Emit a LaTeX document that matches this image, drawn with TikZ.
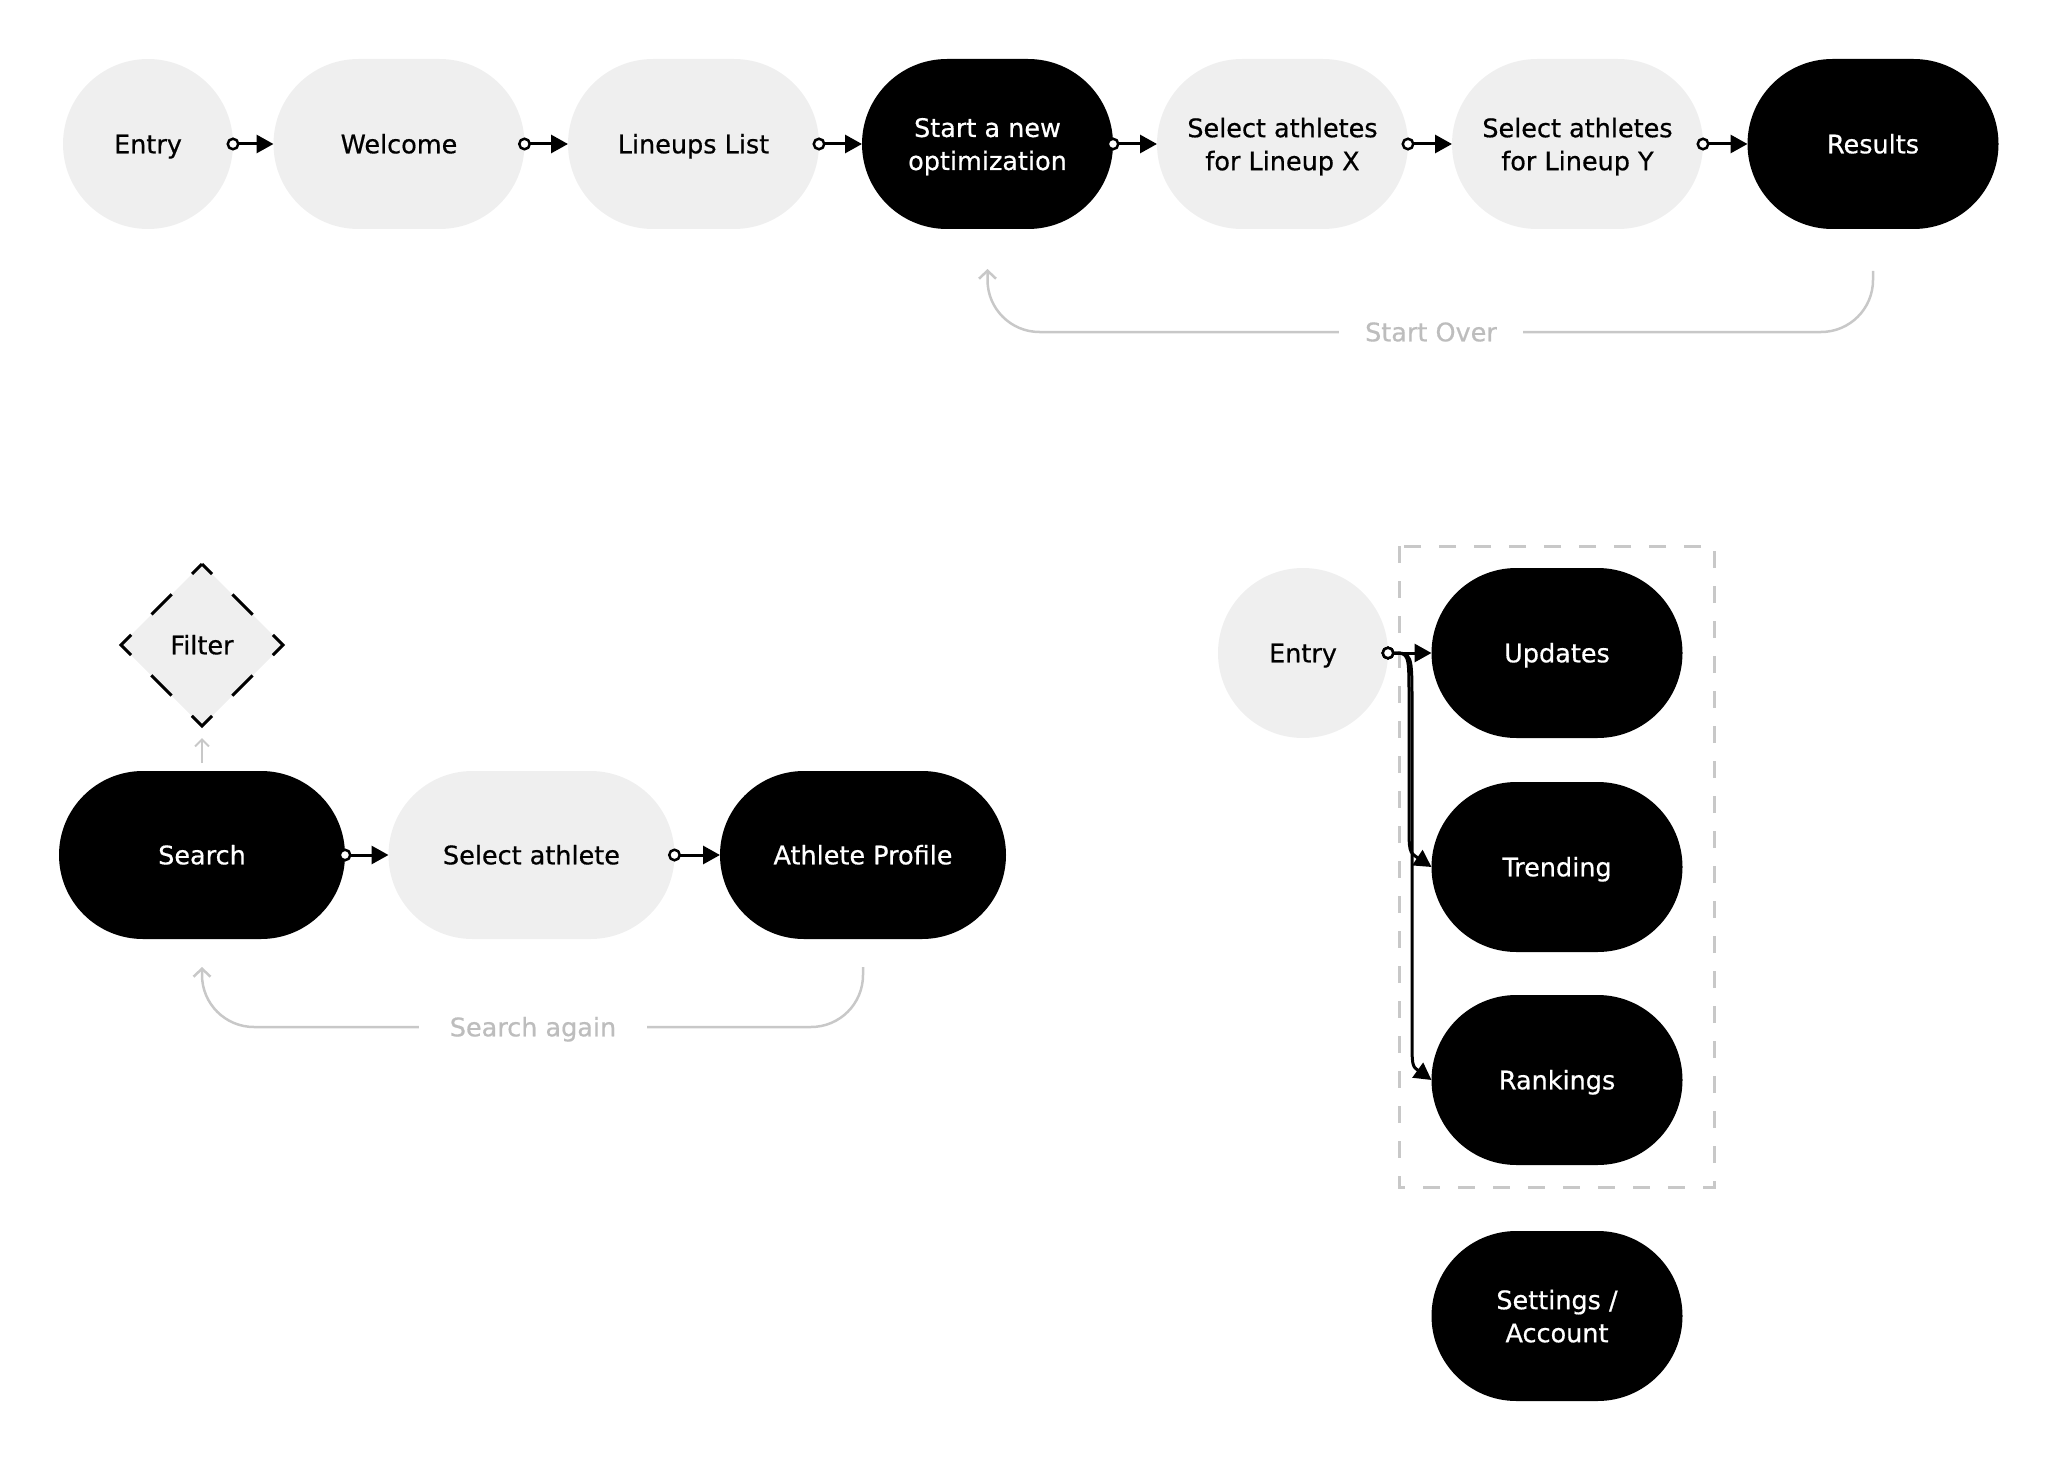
\documentclass[tikz,border=0pt]{standalone}
\usepackage{fontspec}
\setmainfont{DejaVu Sans}[FakeBold=0.6]
\usetikzlibrary{arrows.meta,shapes.geometric}
\definecolor{pillgray}{HTML}{EFEFEF}
\definecolor{loopgray}{HTML}{C8C8C8}
\definecolor{labgray}{HTML}{BDBDBD}
\tikzset{
  base/.style={font=\fontsize{25.5}{33}\selectfont, align=center, inner sep=0pt, outer sep=0pt},
  one/.style={text height=19pt, text depth=0.4pt},
  shapeg/.style={base, fill=pillgray, minimum width=251pt, minimum height=170pt, rounded corners=85pt},
  shapeb/.style={base, fill=black, text=white, minimum width=251pt, minimum height=170pt, rounded corners=85pt},
  pillg/.style={shapeg, one},
  pillb/.style={shapeb, one},
  pillgtwo/.style={shapeg},
  pillbtwo/.style={shapeb},
  wideb/.style={pillb, minimum width=286pt, minimum height=168pt, rounded corners=84pt},
  wideg/.style={pillg, minimum width=286pt, minimum height=168pt, rounded corners=84pt},
  entry/.style={base, one, circle, fill=pillgray, minimum size=170pt},
  conn/.style={line width=3pt, {Circle[length=13pt, fill=white, line width=2.5pt]}-{Triangle[length=17pt, width=18pt]}},
  back/.style={draw=loopgray, line width=2.5pt, -{Straight Barb[length=8pt, width=17pt, line width=2.5pt]}},
  backlab/.style={base, one, fill=white, text=labgray, inner xsep=26pt, inner ysep=6pt},
}
\begin{document}
\begin{tikzpicture}[x=1pt,y=-1pt]
\useasboundingbox (0,0) rectangle (2048,1479);
% top row
\node[entry] (e1) at (148,144) {Entry};
\node[pillg] (wel) at (399,144) {Welcome};
\node[pillg] (lin) at (693.5,144) {Lineups List};
\node[pillbtwo] (sta) at (987.5,144) {Start a new\\\smash{optimization}};
\node[pillgtwo] (slx) at (1282.5,144) {Select athletes\\\smash{for Lineup X}};
\node[pillgtwo] (sly) at (1577.5,144) {Select athletes\\\smash{for Lineup Y}};
\node[pillb] (res) at (1873,144) {Results};
\draw[conn] ([xshift=-6.5pt]e1.east) -- (wel.west);
\draw[conn] ([xshift=-6.5pt]wel.east) -- (lin.west);
\draw[conn] ([xshift=-6.5pt]lin.east) -- (sta.west);
\draw[conn] ([xshift=-6.5pt]sta.east) -- (slx.west);
\draw[conn] ([xshift=-6.5pt]slx.east) -- (sly.west);
\draw[conn] ([xshift=-6.5pt]sly.east) -- (res.west);
\coordinate (solab) at (1431,332);
\draw[back, rounded corners=52pt] ([yshift=-42pt]res.south) |- (solab) -| ([yshift=-40pt]sta.south);
\node[backlab] (sol) at (solab) {Start Over};
% bottom left
\node[wideb] (sea) at (202,855) {Search};
\node[wideg] (sel) at (531.5,855) {Select athlete};
\node[wideb] (ath) at (863,855) {Athlete Profile};
\node[base, one, diamond, aspect=1, fill=pillgray, minimum width=162pt, minimum height=162pt] (fil) at (202,645) {Filter};
\draw[line width=3pt, dash pattern=on 28.6pt off 28.7pt, dash phase=14.3pt, line join=miter]
  (fil.north) -- (fil.east) -- (fil.south) -- (fil.west) -- cycle;
\draw[draw=loopgray, line width=2pt, -{Straight Barb[length=7pt, width=14pt, line width=2pt]}] ([yshift=8pt]sea.north) -- ([yshift=-12pt]fil.south);
\draw[conn] ([xshift=-6.5pt]sea.east) -- (sel.west);
\draw[conn] ([xshift=-6.5pt]sel.east) -- (ath.west);
\coordinate (salab) at (533,1027);
\draw[back, rounded corners=52pt] ([yshift=-28pt]ath.south) |- (salab) -| ([yshift=-28pt]sea.south);
\node[backlab, inner xsep=31pt] (sal) at (salab) {Search again};
% right group
\draw[draw=loopgray, line width=3pt, dash pattern=on 17pt off 18pt] (1399,546) rectangle (1714,1187);
\node[entry] (e2) at (1303,653) {Entry};
\node[pillb] (upd) at (1557,653) {Updates};
\node[pillb] (tre) at (1557,867) {Trending};
\node[pillb] (ran) at (1557,1080) {Rankings};
\node[pillbtwo] (set) at (1557,1316) {Settings /\\\smash{Account}};
\draw[conn] ([xshift=-6.5pt]e2.east) -- (upd.west);
\draw[conn] ([xshift=-6.5pt]e2.east) .. controls (1409,653) .. (1409,700) -- (1409,822) .. controls (1409,852) .. (tre.west);
\draw[conn] ([xshift=-6.5pt]e2.east) .. controls (1412,653) .. (1412,705) -- (1412,1035) .. controls (1412,1066) .. (ran.west);
\end{tikzpicture}
\end{document}
